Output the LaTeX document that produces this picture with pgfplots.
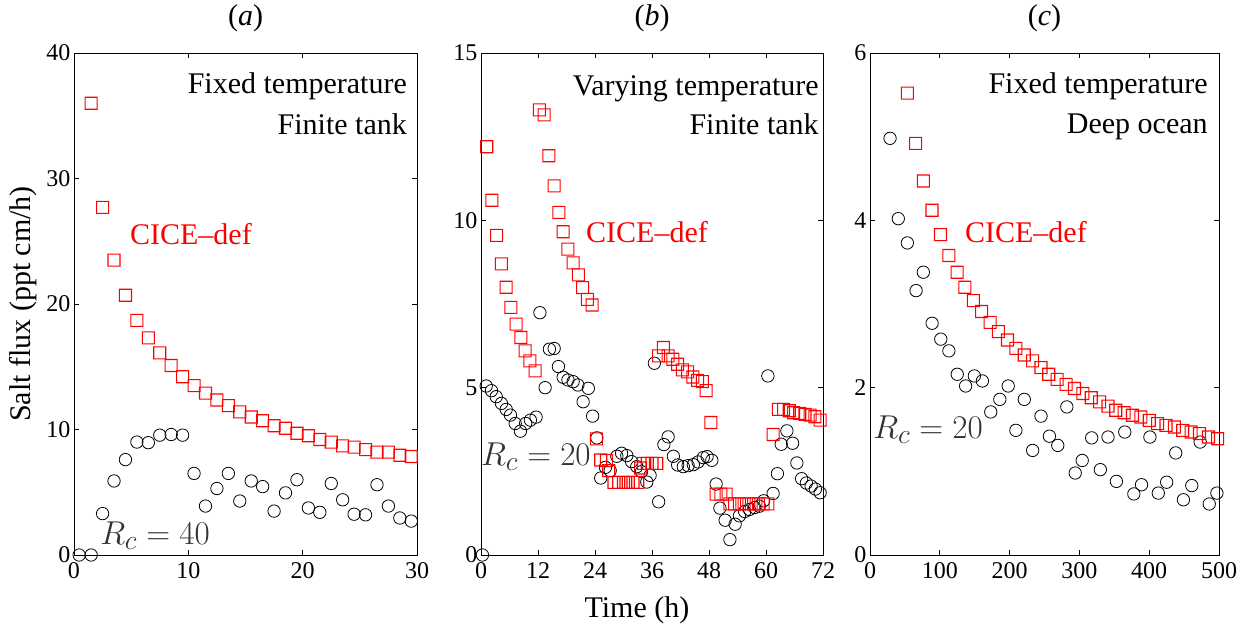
\documentclass[border=0pt]{standalone}
\usepackage{fontspec}
\setmainfont{Liberation Serif}
\usepackage{pgfplots}
\pgfplotsset{compat=1.18}
\newdimen\sqa \newdimen\sqb
\makeatletter
\pgfdeclareplotmark{sqringline}{%
  \pgfsys@invoke{ 1 0 0 rg }%
  \sqa=\pgfplotmarksize \advance\sqa by 0.55pt
  \sqb=\pgfplotmarksize \advance\sqb by -0.55pt
  \pgfpathmoveto{\pgfqpoint{-\sqa}{-\sqa}}\pgfpathlineto{\pgfqpoint{\sqa}{-\sqa}}%
  \pgfpathlineto{\pgfqpoint{\sqa}{\sqa}}\pgfpathlineto{\pgfqpoint{-\sqa}{\sqa}}\pgfpathclose
  \pgfpathmoveto{\pgfqpoint{-\sqb}{-\sqb}}\pgfpathlineto{\pgfqpoint{-\sqb}{\sqb}}%
  \pgfpathlineto{\pgfqpoint{\sqb}{\sqb}}\pgfpathlineto{\pgfqpoint{\sqb}{-\sqb}}\pgfpathclose
  \pgfusepathqfill}
\makeatother
\newcommand{\tickfont}{\fontsize{24}{28}\selectfont}
\newcommand{\labfont}{\fontsize{30}{36}\selectfont}
\newcommand{\mfont}{\fontsize{24.88}{30}\selectfont}
\newcommand{\rc}[1]{\scalebox{1.33}{$R_c = #1$}}
\definecolor{rcgray}{gray}{0.2}
\tikzset{ann/.style={font=\labfont, inner sep=0pt}}
\pgfplotsset{
 mystyle/.style={
  scale only axis, height=502pt, anchor=south west,
  axis line style={line width=0.9pt, black},
  tick style={line width=0.9pt, black},
  major tick length=5pt,
  tick align=inside,
  xtick pos=both, ytick pos=both,
  tick label style={font=\tickfont},
  xticklabel style={yshift=-4pt},
  /pgf/number format/assume math mode=true,
  scaled ticks=false,
  clip=false,
  title style={font=\labfont, at={(axis description cs:0.5,1.058)}, anchor=center},
 },
 circ/.style={only marks, mark=o, mark size=6.2pt, line width=0.8pt, color=black},
 sq/.style={only marks, mark=sqringline, mark size=6pt, line width=0.8pt, color=red, mark options={draw=red, fill=red}},
}
\begin{document}
\begin{tikzpicture}
\useasboundingbox (0,0) rectangle (1255pt,630pt);
% ---------------- panel a
\begin{axis}[mystyle, at={(74pt,75pt)}, width=343pt,
  xmin=0, xmax=30, ymin=0, ymax=40,
  xtick={0,10,20,30}, ytick={0,10,20,30,40},
  title={(\textit{a})},
  ylabel={Salt flux (ppt cm/h)},
  ylabel style={font=\labfont, at={(axis description cs:-0.147,0.5)}, anchor=center, rotate=0}]
\addplot[circ] coordinates {
(0.45,0) (1.5,0) (2.5,3.3) (3.5,5.9) (4.5,7.6) (5.5,9.0) (6.5,8.95) (7.5,9.55) (8.5,9.6) (9.5,9.55)
(10.5,6.5) (11.5,3.9) (12.5,5.3) (13.5,6.5) (14.5,4.3) (15.5,5.9) (16.5,5.45) (17.5,3.5) (18.5,4.95) (19.5,6.0)
(20.5,3.75) (21.5,3.4) (22.5,5.7) (23.5,4.4) (24.5,3.25) (25.5,3.2) (26.5,5.6) (27.5,3.9) (28.5,2.95) (29.5,2.7)};
\addplot[sq] coordinates {
(1.5,36.0) (2.5,27.7) (3.5,23.5) (4.5,20.7) (5.5,18.7) (6.5,17.3) (7.5,16.1) (8.5,15.1) (9.5,14.2)
(10.5,13.5) (11.5,12.9) (12.5,12.35) (13.5,11.9) (14.5,11.4) (15.5,11.0) (16.5,10.7) (17.5,10.3) (18.5,10.1) (19.5,9.7)
(20.5,9.5) (21.5,9.2) (22.5,9.0) (23.5,8.7) (24.5,8.6) (25.5,8.4) (26.5,8.2) (27.5,8.2) (28.5,7.95) (29.5,7.85)};
\node[ann, anchor=base east] at (axis description cs:0.971,0.920) {Fixed temperature};
\node[ann, anchor=base east] at (axis description cs:0.971,0.837) {Finite tank};
\node[ann, anchor=base west, text=red] at (axis description cs:0.163,0.618) {CICE--def};
\node[inner sep=0pt, anchor=base west, text=rcgray, font=\mfont] at (axis description cs:0.076,0.02) {\rc{40}};
\end{axis}
% ---------------- panel b
\begin{axis}[mystyle, at={(481pt,75pt)}, width=342pt,
  xmin=0, xmax=72, ymin=0, ymax=15,
  xtick={0,12,24,36,48,60,72}, ytick={0,5,10,15},
  title={(\textit{b})},
  xlabel={Time (h)},
  xlabel style={font=\labfont, at={(axis description cs:0.456,-0.11)}, anchor=center}]
\addplot[circ] coordinates {
(0.3,0.0) (1.1,5.05) (2.2,4.91) (3.2,4.73) (4.3,4.53) (5.3,4.35) (6.2,4.18) (7.2,3.93) (8.3,3.70) (9.4,3.93)
(10.4,4.03) (11.6,4.12) (12.4,7.24) (13.5,5.00) (14.4,6.15) (15.4,6.17) (16.3,5.63) (17.3,5.31) (18.3,5.23) (19.4,5.18)
(20.4,5.08) (21.5,4.58) (22.6,4.98) (23.5,4.15) (24.4,3.50) (25.2,2.30) (26.2,2.62) (27.2,2.52) (28.6,2.95) (29.6,3.04)
(30.7,2.97) (31.7,2.79) (32.8,2.64) (33.8,2.49) (34.9,2.18) (35.6,2.38) (36.5,5.73) (37.4,1.59) (38.5,3.30) (39.4,3.53)
(40.5,2.95) (41.4,2.69) (42.6,2.64) (43.6,2.67) (44.7,2.70) (45.7,2.78) (46.8,2.91) (47.6,2.94) (48.6,2.83) (49.5,2.12)
(50.3,1.40) (51.4,1.04) (52.4,0.46) (53.5,0.92) (54.4,1.17) (55.5,1.30) (56.5,1.36) (57.6,1.42) (58.6,1.46) (59.5,1.62)
(60.4,5.35) (61.5,1.84) (62.4,2.43) (63.2,3.31) (64.4,3.71) (65.6,3.34) (66.5,2.75) (67.5,2.28) (68.5,2.15) (69.5,2.06)
(70.4,1.97) (71.4,1.86)};
\addplot[sq] coordinates {
(1.2,12.2) (2.3,10.6) (3.3,9.55) (4.3,8.7) (5.3,8.0) (6.3,7.4) (7.4,6.9) (8.4,6.5) (9.3,6.1) (10.3,5.8) (11.4,5.5)
(12.3,13.3) (13.3,13.15) (14.3,11.93) (15.4,11.03) (16.4,10.24) (17.3,9.66) (18.3,9.14) (19.4,8.73) (20.5,8.37) (21.4,7.99) (22.4,7.64) (23.4,7.47)
(24.3,3.47) (25.2,2.84) (26.4,2.82) (26.9,2.52) (28.0,2.17) (29.0,2.17) (30.0,2.17) (31.0,2.17) (32.0,2.17) (33.0,2.17)
(33.6,2.6) (34.2,2.74) (35.0,2.74) (36.0,2.74) (37.0,2.74)
(37.4,5.95) (38.4,6.2) (39.4,5.95) (40.4,5.85) (41.4,5.7) (42.4,5.53) (43.5,5.47) (44.6,5.32) (45.6,5.22) (46.6,5.18) (47.4,4.91) (48.4,3.96)
(49.5,1.82) (50.5,1.82) (51.6,1.82) (52.4,1.53) (53.4,1.53) (54.4,1.53) (55.4,1.53) (56.4,1.53) (57.4,1.53) (58.4,1.53) (59.4,1.53) (60.4,1.53)
(61.5,3.6) (62.6,4.35) (63.7,4.35) (64.9,4.31) (65.8,4.25) (67.1,4.23) (68.2,4.2) (69.3,4.18) (70.3,4.13) (71.4,4.03)};
\node[ann, anchor=base east] at (axis description cs:0.988,0.916) {Varying temperature};
\node[ann, anchor=base east] at (axis description cs:0.988,0.837) {Finite tank};
\node[ann, anchor=base west, text=red] at (axis description cs:0.307,0.622) {CICE--def};
\node[inner sep=0pt, anchor=base west, text=rcgray, font=\mfont] at (axis description cs:0.0,0.179) {\rc{20}};
\end{axis}
% ---------------- panel c
\begin{axis}[mystyle, at={(870pt,75pt)}, width=349pt,
  xmin=0, xmax=500, ymin=0, ymax=6,
  xtick={0,100,200,300,400,500}, ytick={0,2,4,6},
  title={(\textit{c})}]
\addplot[circ] coordinates {
(28.7,4.98) (40.5,4.02) (53.5,3.73) (66,3.16) (76.4,3.38) (89,2.77) (101.4,2.58) (113,2.44) (125,2.16) (137,2.02)
(149.5,2.14) (161,2.08) (173,1.71) (186,1.86) (198,2.02) (209,1.49) (221,1.86) (233,1.25) (245,1.66) (257,1.42)
(269,1.31) (282,1.77) (294,0.98) (304,1.13) (317.6,1.40) (330,1.02) (341,1.41) (353,0.88) (365,1.47) (378,0.73)
(389,0.84) (401,1.41) (413,0.74) (425,0.87) (438,1.22) (449,0.66) (461,0.83) (473,1.35) (486,0.61) (497,0.74)};
\addplot[sq] coordinates {
(53.5,5.52) (65.4,4.92) (76.4,4.47) (88.8,4.12) (101,3.83) (113,3.58) (124.8,3.38) (136,3.20) (148,3.04) (160,2.91)
(172,2.78) (184,2.67) (197,2.57) (209,2.47) (221,2.39) (233,2.32) (245,2.24) (256,2.16) (268,2.10) (281,2.04)
(293,1.99) (305,1.93) (317,1.88) (329,1.83) (341,1.78) (352,1.73) (364,1.70) (376,1.67) (388,1.65) (400,1.61)
(412,1.57) (424,1.55) (436,1.53) (448,1.49) (460,1.47) (472,1.45) (485,1.41) (498,1.39)};
\node[ann, anchor=base east] at (axis description cs:0.968,0.920) {Fixed temperature};
\node[ann, anchor=base east] at (axis description cs:0.968,0.839) {Deep ocean};
\node[ann, anchor=base west, text=red] at (axis description cs:0.272,0.622) {CICE--def};
\node[inner sep=0pt, anchor=base west, text=rcgray, font=\mfont] at (axis description cs:0.009,0.233) {\rc{20}};
\end{axis}
\end{tikzpicture}
\end{document}
